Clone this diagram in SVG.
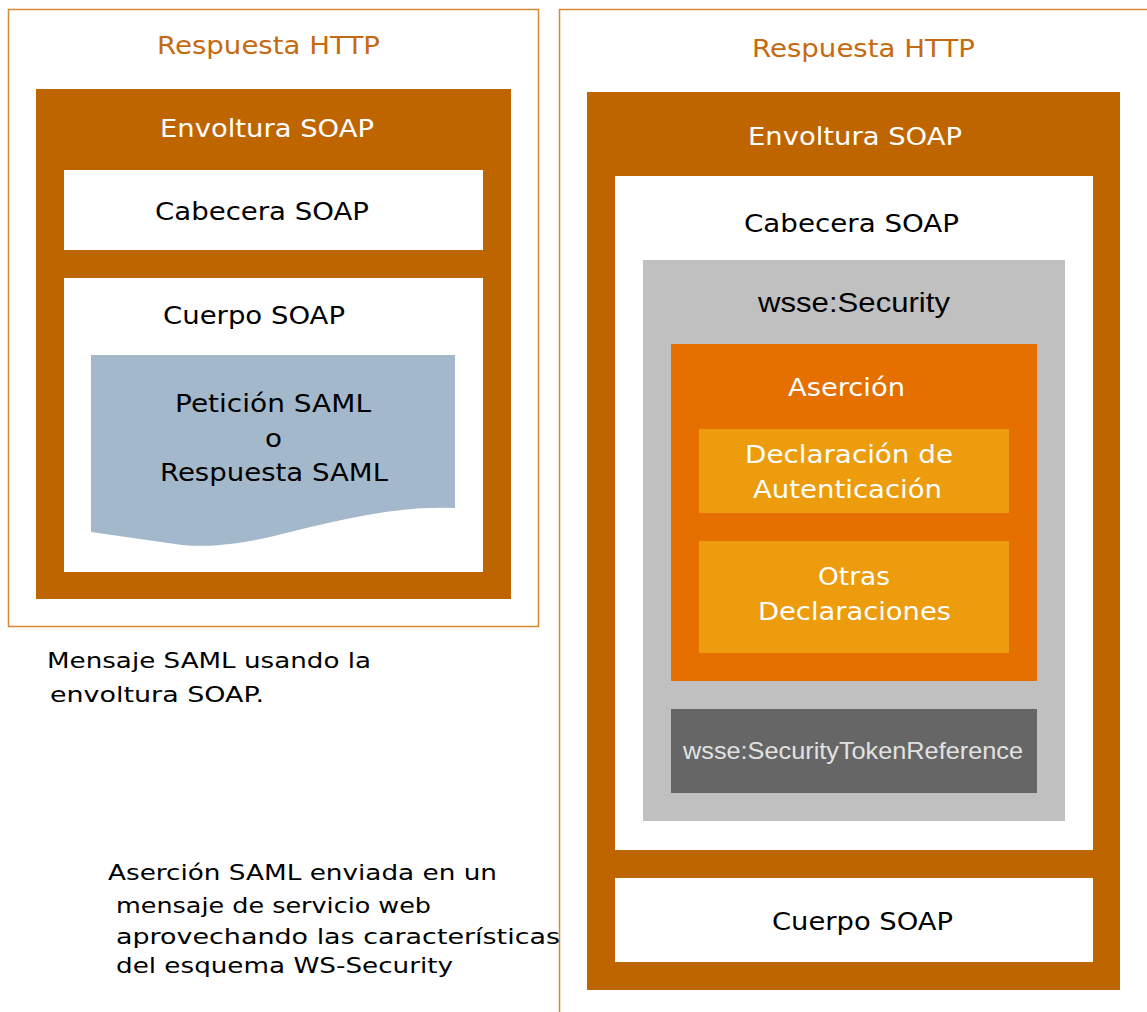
<svg xmlns="http://www.w3.org/2000/svg" width="1147" height="1012" viewBox="0 0 1147 1012">
<style>
.lbl{font-family:"DejaVu Sans","Verdana",sans-serif;font-size:25px}
.cap{font-family:"DejaVu Sans","Verdana",sans-serif;fill:#000}
.ar{font-family:"Liberation Sans",Arial,sans-serif}
.w{fill:#ffffff}
.k{fill:#000000}
.ttl{fill:#C56A10}
.frame{fill:none;stroke:#D58A35;stroke-width:1.5}
.env{fill:#BF6500}
.box{fill:#ffffff}
</style>
<rect width="1147" height="1012" fill="#ffffff"/>

<g id="left-http">
<rect class="frame" x="8.5" y="9.5" width="530" height="617"/>
<text class="lbl ttl" x="157" y="54" textLength="223" lengthAdjust="spacingAndGlyphs">Respuesta HTTP</text>
</g>
<g id="left-envoltura">
<rect class="env" x="36" y="89" width="475" height="510"/>
<text class="lbl w" x="160" y="137" textLength="214" lengthAdjust="spacingAndGlyphs">Envoltura SOAP</text>
</g>
<g id="left-cabecera">
<rect class="box" x="64" y="170" width="419" height="80"/>
<text class="lbl k" x="155" y="219.5" textLength="214" lengthAdjust="spacingAndGlyphs">Cabecera SOAP</text>
</g>
<g id="left-cuerpo">
<rect class="box" x="64" y="278" width="419" height="294"/>
<text class="lbl k" x="163" y="323.5" textLength="182" lengthAdjust="spacingAndGlyphs">Cuerpo SOAP</text>
</g>
<g id="left-saml">
<path d="M91,355 H455 V508 C395,505 330,522 270,537 C230,546 200,547 182,545 L91,532 Z" fill="#A4B8CC"/>
<text class="lbl k" x="175" y="412" textLength="196" lengthAdjust="spacingAndGlyphs">Petición SAML</text>
<text class="lbl k" x="265" y="446.5" textLength="17" lengthAdjust="spacingAndGlyphs">o</text>
<text class="lbl k" x="160" y="480.5" textLength="228" lengthAdjust="spacingAndGlyphs">Respuesta SAML</text>
</g>
<g id="left-caption">
<text class="cap" font-size="22" x="47" y="668" textLength="324" lengthAdjust="spacingAndGlyphs">Mensaje SAML usando la</text>
<text class="cap" font-size="22" x="50" y="702" textLength="214" lengthAdjust="spacingAndGlyphs">envoltura SOAP.</text>
</g>

<g id="right-http">
<path d="M1147,9.5 H559.5 V1012" class="frame"/>
<text class="lbl ttl" x="752" y="56.5" textLength="223" lengthAdjust="spacingAndGlyphs">Respuesta HTTP</text>
</g>
<g id="right-envoltura">
<rect class="env" x="587" y="92" width="533" height="898"/>
<text class="lbl w" x="748" y="145" textLength="214" lengthAdjust="spacingAndGlyphs">Envoltura SOAP</text>
</g>
<g id="right-cabecera">
<rect class="box" x="615" y="176" width="478" height="674"/>
<text class="lbl k" x="744" y="232" textLength="215" lengthAdjust="spacingAndGlyphs">Cabecera SOAP</text>
</g>
<g id="wsse-security">
<rect x="643" y="260" width="422" height="561" fill="#C0C0C0"/>
<text class="ar k" font-size="28" x="758" y="311.5" textLength="192" lengthAdjust="spacingAndGlyphs">wsse:Security</text>
</g>
<g id="asercion">
<rect x="671" y="344" width="366" height="337" fill="#E57000"/>
<text class="lbl w" x="788" y="395.5" textLength="117" lengthAdjust="spacingAndGlyphs">Aserción</text>
</g>
<g id="declaracion-autenticacion">
<rect x="699" y="429" width="310" height="84" fill="#EC9C0C"/>
<text class="lbl w" x="745" y="463.3" textLength="208" lengthAdjust="spacingAndGlyphs">Declaración de</text>
<text class="lbl w" x="753" y="497.7" textLength="189" lengthAdjust="spacingAndGlyphs">Autenticación</text>
</g>
<g id="otras-declaraciones">
<rect x="699" y="541" width="310" height="112" fill="#EC9C0C"/>
<text class="lbl w" x="818" y="585" textLength="72" lengthAdjust="spacingAndGlyphs">Otras</text>
<text class="lbl w" x="758" y="620" textLength="193" lengthAdjust="spacingAndGlyphs">Declaraciones</text>
</g>
<g id="token-reference">
<rect x="671" y="709" width="366" height="84" fill="#666666"/>
<text class="ar" font-size="24" fill="#E2E2E2" x="683" y="759.3" textLength="340" lengthAdjust="spacingAndGlyphs">wsse:SecurityTokenReference</text>
</g>
<g id="right-cuerpo">
<rect class="box" x="615" y="878" width="478" height="84"/>
<text class="lbl k" x="772" y="930" textLength="181" lengthAdjust="spacingAndGlyphs">Cuerpo SOAP</text>
</g>
<g id="right-caption">
<text class="cap" font-size="21" x="108" y="880" textLength="389" lengthAdjust="spacingAndGlyphs">Aserción SAML enviada en un</text>
<text class="cap" font-size="21" x="116" y="913" textLength="315" lengthAdjust="spacingAndGlyphs">mensaje de servicio web</text>
<text class="cap" font-size="21" x="116" y="943.5" textLength="444" lengthAdjust="spacingAndGlyphs">aprovechando las características</text>
<text class="cap" font-size="21" x="116" y="973" textLength="337" lengthAdjust="spacingAndGlyphs">del esquema WS-Security</text>
</g>
<g id="connectors"></g>
</svg>
